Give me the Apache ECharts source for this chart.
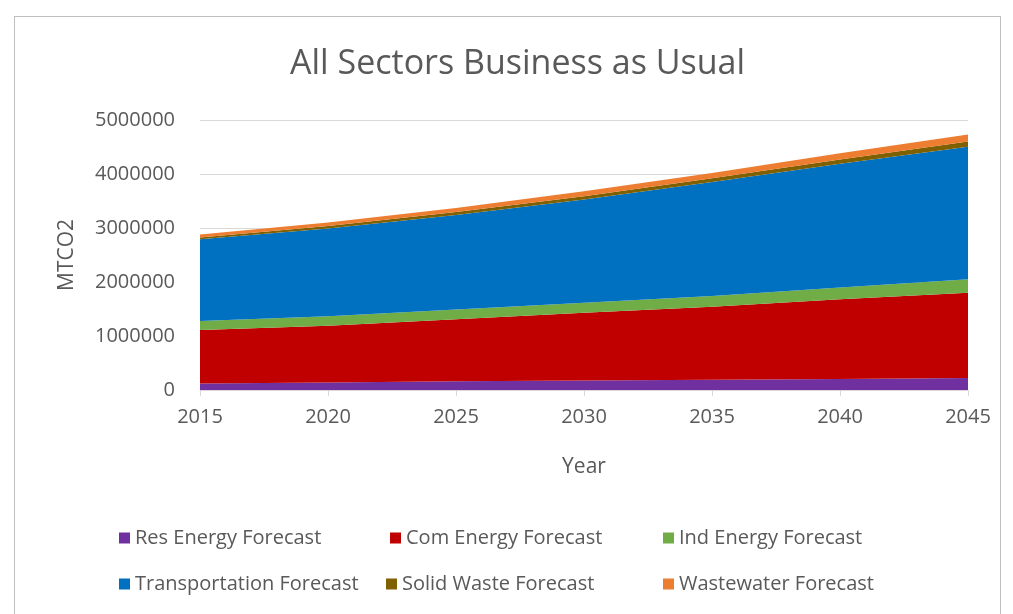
<!DOCTYPE html>
<html>
<head>
<meta charset="utf-8">
<script src="https://cdn.jsdelivr.net/npm/echarts@6/dist/echarts.min.js"></script>
<style>
html,body{margin:0;padding:0;background:#fff;}
#frame{position:absolute;left:14px;top:16px;width:987px;height:620px;border:1px solid #bfbfbf;box-sizing:border-box;}
#chart{position:absolute;left:0;top:0;width:1013px;height:614px;}
</style>
</head>
<body>
<div id="frame"></div>
<div id="chart"></div>
<script>
const years = ['2015', '2020', '2025', '2030', '2035', '2040', '2045'];
const resEnergy = [120000, 140000, 160000, 175000, 190000, 205000, 220000];
const comEnergy = [990000, 1050000, 1150000, 1255000, 1350000, 1475000, 1580000];
const indEnergy = [170000, 175000, 180000, 185000, 200000, 220000, 250000];
const transportation = [1510000, 1625000, 1750000, 1915000, 2110000, 2290000, 2455000];
const solidWaste = [35000, 45000, 55000, 60000, 70000, 80000, 95000];
const wastewater = [55000, 65000, 75000, 90000, 100000, 115000, 130000];
const yTicks = [0, 1000000, 2000000, 3000000, 4000000, 5000000];

const seriesDefs = [
  {name: 'Res Energy Forecast', data: resEnergy, color: '#7030a0'},
  {name: 'Com Energy Forecast', data: comEnergy, color: '#c00000'},
  {name: 'Ind Energy Forecast', data: indEnergy, color: '#70ad47'},
  {name: 'Transportation Forecast', data: transportation, color: '#0070c0'},
  {name: 'Solid Waste Forecast', data: solidWaste, color: '#7f6000'},
  {name: 'Wastewater Forecast', data: wastewater, color: '#ed7d31'}
];
// text box widths so that legend columns line up like the reference
const legendTextWidths = [255, 257, 230, 251, 261, 230];
const FONT = '"Open Sans", "Liberation Sans", sans-serif';
const GRAY = '#595959';

const chart = echarts.init(document.getElementById('chart'), null, {renderer: 'canvas'});
chart.setOption({
  animation: false,
  color: seriesDefs.map(s => s.color),
  title: {
    text: 'All Sectors Business as Usual',
    left: 285, top: 42,
    textStyle: {fontFamily: FONT, fontSize: 34, fontWeight: 'normal', color: GRAY}
  },
  legend: {
    left: 114, top: 510, width: 790, orient: 'horizontal',
    icon: 'rect', itemWidth: 11, itemHeight: 11, itemGap: 0,
    textStyle: {fontFamily: FONT, fontSize: 20, color: GRAY, lineHeight: 46},
    data: seriesDefs.map((s, i) => ({name: s.name, textStyle: {width: legendTextWidths[i]}}))
  },
  grid: {left: 200, right: 45, top: 120, bottom: 224, containLabel: false},
  xAxis: {
    type: 'category', data: years, boundaryGap: false,
    name: 'Year', nameLocation: 'middle', nameGap: 67,
    nameTextStyle: {fontFamily: FONT, fontSize: 21, color: GRAY},
    axisLine: {show: true, lineStyle: {color: '#d9d9d9', width: 1}},
    axisTick: {show: true, length: 6, lineStyle: {color: '#d9d9d9'}},
    splitLine: {show: false},
    axisLabel: {fontFamily: FONT, fontSize: 20, color: GRAY, margin: 17}
  },
  yAxis: {
    type: 'value', min: yTicks[0], max: yTicks[yTicks.length - 1], interval: yTicks[1] - yTicks[0],
    name: 'MTCO2', nameLocation: 'middle', nameGap: 122, nameRotate: 90,
    nameTextStyle: {fontFamily: FONT, fontSize: 21, color: GRAY},
    axisLine: {show: false}, axisTick: {show: false},
    splitLine: {show: true, lineStyle: {color: '#d9d9d9', width: 1}},
    axisLabel: {fontFamily: FONT, fontSize: 20, color: GRAY, margin: 25, formatter: v => String(v)}
  },
  series: seriesDefs.map(s => ({
    name: s.name, type: 'line', stack: 'total', symbol: 'none',
    lineStyle: {width: 0},
    areaStyle: {color: s.color, opacity: 1},
    itemStyle: {color: s.color},
    data: s.data
  }))
});
</script>
</body>
</html>
